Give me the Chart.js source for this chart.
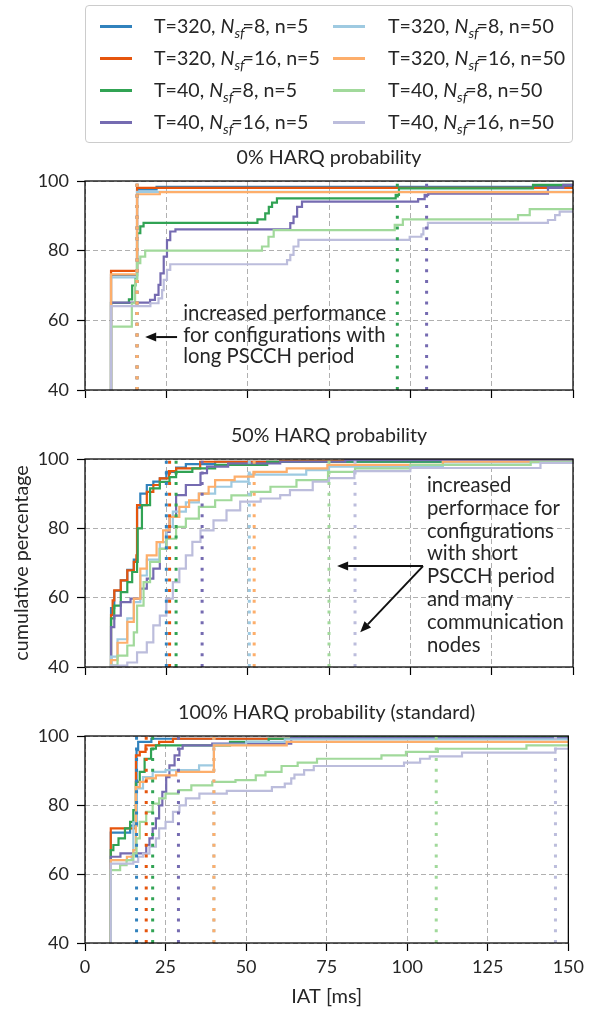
<!DOCTYPE html>
<html>
<head>
<meta charset="utf-8">
<script src="https://cdn.jsdelivr.net/npm/chart.js@4.4.1/dist/chart.umd.min.js"></script>
<style>
  body { margin: 0; width: 589px; height: 1015px; background: #fff; position: relative; overflow: hidden;
         font-family: Lato, sans-serif; color: #262626; }
  canvas { position: absolute; left: 0; }
  #legend { position: absolute; left: 85px; top: 5px; width: 486px; height: 136px; border: 1px solid #ccc;
            border-radius: 4px; background: rgba(255,255,255,.8); z-index: 2; }
  .swatch { position: absolute; width: 32px; height: 3px; }
  .entry { position: absolute; height: 24px; line-height: 24px; font-size: 19.6px; white-space: nowrap; }
  .entry sub { font-size: .72em; font-style: italic; vertical-align: -.35em; line-height: 0; margin-right: -2px; }
</style>
</head>
<body>
<div id="legend"></div>
<canvas id="c0" width="589" height="269" style="top:141px"></canvas>
<canvas id="c50" width="589" height="268" style="top:419px"></canvas>
<canvas id="c100" width="589" height="317" style="top:696px"></canvas>
<script>
// configurations (legend order)
const periods = [320, 320, 40, 40, 320, 320, 40, 40];
const nsf = [8, 16, 8, 16, 8, 16, 8, 16];
const nodes = [5, 5, 5, 5, 50, 50, 50, 50];
const colors = ['#3182bd', '#e6550d', '#31a354', '#756bb1', '#9ecae1', '#fdae6b', '#a1d99b', '#bcbddc'];

const titles = ['0% HARQ probability', '50% HARQ probability', '100% HARQ probability (standard)'];
const xTicks = [0, 25, 50, 75, 100, 125, 150];
const yTicks = [40, 60, 80, 100];

// CDF points [IAT ms, cumulative %], 0% HARQ
const cdf0 = [
  [[8,0],[8,73],[16,97.6],[22,98.3],[150,98.3]],
  [[8,0],[8,74.2],[16,98],[150,98]],
  [[8,0],[8,65],[13.5,66],[14.5,70],[15.5,72],[16,85],[17,87],[18,88],[53,89],[55.4,90.7],[56.5,92.6],[57.5,93.8],[59,95],[95.5,96],[96.5,97.9],[137.7,98.9],[150,98.9]],
  [[8,0],[8,65.1],[20,65.9],[21.5,67.3],[22.6,70.2],[23.2,73.5],[24.2,78.3],[25.2,83],[26.2,85.5],[27.8,86.1],[63.1,87.9],[64.1,89.8],[65.2,92.6],[66.7,94.1],[102.4,94.8],[104.4,96],[105.5,96.4],[142.3,98],[147,98.9],[150,98.9]],
  [[8,0],[8,72.3],[16,96.9],[150,97]],
  [[8,0],[8,73.2],[16,96.2],[23,96.8],[150,96.8]],
  [[8,0],[8,58.2],[14.4,64.9],[15.4,71.6],[16,76.4],[17,78.3],[18.5,80],[54.4,81.2],[56.4,84],[58,85.9],[95.2,87.4],[97.7,89],[133.1,90.2],[136.7,91.9],[150,91.9]],
  [[8,0],[8,64.1],[20.1,64.9],[22.6,66.3],[23.7,68.7],[24.2,71.6],[25.2,74.5],[26.2,76.1],[62.1,77.3],[63.1,78.8],[64.1,81.2],[65.6,83.1],[99.8,84],[103.4,84.7],[104,86.4],[105.4,88],[142.3,88.8],[144.5,90.2],[145.9,91.2],[150,91.2]]
];
const marks0 = [16, 16, 96, 105, 16, 16, null, null];

// 50% HARQ
const cdf50 = [
  [[8,0],[8,57],[9,62],[11,65],[13,68],[15,71],[16,86],[17,90],[19,92.5],[21,93.5],[23,94.4],[25,96.3],[28,97.5],[31,98.5],[40,99.2],[150,99.4]],
  [[8,0],[8,55],[8.5,59.2],[9,62.1],[11,65],[13,67.9],[15,70.3],[15.8,72.2],[16,86.7],[19,90.5],[21,92.5],[23,94.4],[25.8,96.5],[28,97.3],[35.4,99.2],[60,99.5],[150,99.5]],
  [[8,0],[8,54],[9,57.7],[11,61.6],[13,64.5],[14.5,67.4],[16,70.3],[16.2,80],[17.5,86.7],[20,91.5],[23,93.4],[26,94.8],[28,96.3],[33,97.3],[40,98.3],[56,99.2],[150,99.3]],
  [[8,0],[8,51.5],[9,54.8],[11,58.7],[14,59.7],[17,62.6],[19,65.5],[21,68.4],[23,74.1],[25,79],[26,83.3],[28,89.6],[31,92.5],[35.5,95.9],[37.5,97.8],[44,98.7],[60,99.2],[80,99.7],[150,99.7]],
  [[8,0],[8,43],[10,48],[13,54],[15,58.7],[17,66.4],[19,71],[23,76],[25,80.4],[27,84.8],[31,87.5],[35,90],[40,92],[45,93.5],[50.3,95.5],[68,96.8],[75,97.8],[110,99],[150,99.2]],
  [[8,0],[8,42],[10,47],[13,53],[15,59.7],[17,68.4],[19,72.2],[22,76],[24,79.4],[26,83.3],[29,86.2],[32,88.1],[35,90],[38,92],[40,93.9],[46,94.9],[51.8,96.3],[62,97.3],[74.5,98.3],[110,99.2],[150,99.3]],
  [[8,0],[8,40.5],[10,43.3],[13,46.2],[15,50],[16,57.7],[18,64.5],[20,70.3],[23,74.1],[25,77],[28,80.4],[31,82.8],[35,86.2],[40,88.1],[45,89.5],[51,90.5],[57,92],[65,93.9],[74.7,96.3],[83,97.3],[100,98.3],[137,99.2],[150,99.2]],
  [[8,0],[8,40.4],[13,41.3],[16,44.2],[19,47.1],[21,52],[23,54.8],[25,59.7],[27,64.5],[29,68.4],[31,72.2],[33,76.1],[35.5,79.4],[39.5,82.3],[43.5,85.2],[47.7,87.7],[54,88.6],[60,89.6],[63,91],[70,93.5],[75,94.5],[82.8,96.5],[100,97.4],[140,98.9],[150,98.9]]
];
const marks50 = [25, 26, 28, 36, 50.5, 52, 75, 83];

// 100% HARQ
const cdf100 = [
  [[8,0],[8,72],[14,74],[16,95.9],[16.5,98.3],[20.6,99.2],[150,99.4]],
  [[8,0],[8,73.2],[15.8,94.4],[17,95.4],[18.8,97.3],[23,98.3],[27.3,99.2],[70,99.5],[150,99.5]],
  [[8,0],[8,66.9],[8.8,68.4],[10.4,70.3],[12.4,73.2],[14,75.1],[15,78.5],[15.8,86.7],[17,89.6],[18.5,93.4],[20.5,96.3],[22,97.3],[45,98.3],[57,99.2],[64,99.6],[150,99.6]],
  [[8,0],[8,65],[11,66],[19,68.4],[20,70.3],[21,73.2],[22,76.1],[23,79.9],[24,83.8],[25.2,88.1],[26.2,91.5],[27.8,94.4],[29.3,96.3],[30.3,97.3],[39.5,97.8],[64,99.4],[150,99.4]],
  [[8,0],[8,64],[14.5,65.5],[15,75],[16,84.8],[18,88.1],[21,89.6],[25,90.1],[35.4,91.5],[40,97.5],[50,98.3],[62,99],[150,99]],
  [[8,0],[8,64],[13,65],[15,66.9],[15.8,85.2],[17,86.7],[19,87.7],[22,88.6],[28.3,89.6],[40,97.3],[62.6,98.3],[150,98.3]],
  [[8,0],[8,61.1],[10.9,62.6],[12.9,64],[15,65.9],[16,70.3],[17,75.1],[19,78],[21,80.4],[23,81.9],[25,83.3],[29,84.3],[33,85.7],[39.5,86.7],[46.7,87.2],[53,88.6],[56,89.6],[61,91.3],[66,92.3],[72,93.4],[92,94.4],[99.6,95.4],[109.5,96.3],[137,97.3],[150,97.3]],
  [[8,0],[8,63],[15,63.5],[16.5,65],[18,65.9],[20,67.9],[22,70.3],[23,73.2],[25,75.1],[27.3,78],[29.3,79.9],[31.3,81.9],[35.5,83.3],[44,84.1],[58,85.2],[62,86.2],[64,87.7],[65,88.8],[68,90.1],[71,91.3],[99,92.3],[104,93.4],[107,94.1],[117,95.2],[146,96.3],[150,96.3]]
];
const marks100 = [16, 19, 21, 29, 40, 40, 109, 146];

const note0 = ['increased performance', 'for configurations with', 'long PSCCH period'];
const note50 = ['increased', 'performace for', 'configurations', 'with short', 'PSCCH period', 'and many', 'communication', 'nodes'];

Chart.defaults.font.family = 'Lato';
Chart.defaults.color = '#262626';

// legend (two columns, like matplotlib ncol=2)
const legendBox = document.getElementById('legend');
periods.forEach((T, i) => {
  const col = Math.floor(i / 4), row = i % 4;
  const cy = 20 + row * 32;
  const sw = document.createElement('div');
  sw.className = 'swatch';
  sw.style.left = (col ? 247 : 14) + 'px';
  sw.style.top = (cy - 1.5) + 'px';
  sw.style.background = colors[i];
  legendBox.appendChild(sw);
  const tx = document.createElement('div');
  tx.className = 'entry';
  tx.style.left = (col ? 302 : 68) + 'px';
  tx.style.top = (cy - 12) + 'px';
  tx.innerHTML = 'T=' + T + ', <i>N</i><sub>sf</sub>=' + nsf[i] + ', n=' + nodes[i];
  legendBox.appendChild(tx);
});

function arrow(ctx, x0, y0, x1, y1) {
  const a = Math.atan2(y1 - y0, x1 - x0), L = 11, W = 4.5;
  const bx = x1 - L * Math.cos(a), by = y1 - L * Math.sin(a);
  ctx.beginPath(); ctx.moveTo(x0, y0); ctx.lineTo(bx, by); ctx.stroke();
  ctx.beginPath(); ctx.moveTo(x1, y1);
  ctx.lineTo(bx - W * Math.sin(a), by + W * Math.cos(a));
  ctx.lineTo(bx + W * Math.sin(a), by - W * Math.cos(a));
  ctx.closePath(); ctx.fill();
}

// spines, panel title, text notes and arrows
const panel = {
  id: 'panel',
  afterDatasetsDraw(chart, args, opts) {
    const {ctx, chartArea: a, scales: {x, y}} = chart;
    ctx.save();
    ctx.setLineDash([]);
    ctx.strokeStyle = '#000';
    ctx.lineWidth = 1.25;
    ctx.strokeRect(a.left, a.top, a.right - a.left, a.bottom - a.top);

    ctx.fillStyle = '#262626';
    ctx.font = '19.6px Lato';
    ctx.textAlign = 'center';
    ctx.textBaseline = 'alphabetic';
    ctx.fillText(opts.title, (a.left + a.right) / 2, a.top - 17);

    if (opts.note) {
      ctx.font = '20.3px Lato';
      ctx.textAlign = 'left';
      opts.note.lines.forEach((t, k) => {
        ctx.fillText(t, x.getPixelForValue(opts.note.x), y.getPixelForValue(opts.note.y) + k * opts.note.gap);
      });
    }
    ctx.strokeStyle = '#111';
    ctx.fillStyle = '#111';
    ctx.lineWidth = 2;
    (opts.arrows || []).forEach(ar => {
      arrow(ctx, x.getPixelForValue(ar[0]), y.getPixelForValue(ar[1]),
                 x.getPixelForValue(ar[2]), y.getPixelForValue(ar[3]));
    });
    ctx.restore();
  }
};

function makeChart(id, cdf, marks, opts) {
  const datasets = [];
  cdf.forEach((pts, i) => {
    datasets.push({
      data: pts.map(p => ({x: p[0], y: p[1]})),
      borderColor: colors[i],
      borderWidth: 2.2,
      pointRadius: 0,
      stepped: true,
      order: 100 - i
    });
  });
  marks.forEach((m, i) => {
    if (m === null) return;
    datasets.push({
      data: [{x: m, y: yTicks[0]}, {x: m, y: yTicks[yTicks.length - 1]}],
      borderColor: colors[i],
      borderWidth: 3,
      borderDash: [3, 7.7],
      pointRadius: 0,
      order: 50 - i
    });
  });

  const grid = { color: '#b0b0b0', lineWidth: 1, tickColor: '#000', tickLength: 8, tickWidth: 1.2 };
  const border = { display: false, dash: [5, 3] };

  return new Chart(document.getElementById(id), {
    type: 'line',
    data: { datasets },
    plugins: [panel],
    options: {
      responsive: false,
      animation: false,
      layout: { padding: { left: 0, right: 16, top: 40, bottom: 0 } },
      plugins: {
        legend: { display: false },
        tooltip: { enabled: false },
        panel: { title: opts.title, note: opts.note, arrows: opts.arrows }
      },
      scales: {
        x: {
          type: 'linear', min: 0, max: 150,
          afterBuildTicks: s => { s.ticks = xTicks.map(v => ({value: v})); },
          afterFit: s => { s.height = opts.xh; },
          ticks: { display: !!opts.xTitle, font: {size: 18}, padding: 5, maxRotation: 0 },
          grid, border,
          title: opts.xTitle ? { display: true, text: opts.xTitle, font: {size: 20}, padding: {top: 0, bottom: 4} } : {display: false}
        },
        y: {
          min: 40, max: 100,
          afterBuildTicks: s => { s.ticks = yTicks.map(v => ({value: v})); },
          afterFit: s => { s.width = 85; },
          ticks: { font: {size: 18}, padding: 8 },
          grid, border,
          title: opts.yTitle ? { display: true, text: opts.yTitle, font: {size: 19.7}, padding: {top: 10, bottom: 0} } : {display: false}
        }
      }
    }
  });
}

makeChart('c0', cdf0, marks0, {
  title: titles[0], xh: 20,
  note: { lines: note0, x: 30.2, y: 60.1, gap: 21.7 },
  arrows: [[28.3, 55.2, 18.5, 55.2]]
});
makeChart('c50', cdf50, marks50, {
  title: titles[1], xh: 20, yTitle: 'cumulative percentage',
  note: { lines: note50, x: 105.1, y: 90.5, gap: 22.8 },
  arrows: [[103.9, 69.1, 77.5, 69.1], [103.9, 69.1, 84.6, 50.0]]
});
makeChart('c100', cdf100, marks100, {
  title: titles[2], xh: 70, xTitle: 'IAT [ms]'
});
</script>
</body>
</html>
